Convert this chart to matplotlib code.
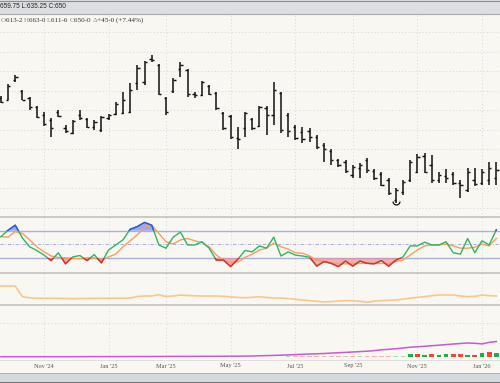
import matplotlib
matplotlib.use("Agg")
import matplotlib.pyplot as plt
import numpy as np
import pandas as pd
from matplotlib.lines import Line2D
from matplotlib.patches import Rectangle
from matplotlib.path import Path

# ---------------- data ----------------
dates = pd.date_range("2024-09-23", periods=70, freq="7D")

high = [675, 687, 696, 681, 674, 664, 658, 652, 660, 645,
        650, 660, 652, 650, 654, 656, 668, 679, 688, 706,
        710, 717, 707, 674, 693, 709, 702, 679, 690, 686,
        679, 658, 655, 643, 658, 652, 664, 664, 689, 679,
        657, 645, 643, 642, 635, 627, 620, 610, 609, 604,
        606, 611, 600, 597, 591, 580, 589, 609, 615, 616,
        614, 597, 600, 597, 589, 601, 601, 600, 607, 607]
low = [667, 670, 689, 670, 660, 652, 644, 633, 653, 637,
       636, 650, 642, 640, 638, 650, 655, 656, 657, 681,
       686, 709, 676, 655, 678, 694, 674, 673, 675, 676,
       660, 640, 631, 620, 633, 640, 643, 635, 645, 637,
       633, 630, 627, 628, 620, 607, 604, 602, 596, 591,
       591, 596, 589, 582, 573, 565, 573, 587, 596, 596,
       586, 586, 586, 584, 570, 576, 582, 584, 584, 584]
opn = [673, 671, 691, 680, 673, 663, 655, 650, 658, 642,
       637, 655, 651, 643, 640, 652, 656, 657, 658, 688,
       689, 712, 706, 673, 680, 702, 701, 677, 676, 685,
       678, 657, 654, 632, 642, 651, 644, 662, 655, 678,
       655, 643, 638, 639, 633, 624, 618, 609, 607, 594,
       601, 609, 598, 595, 589, 568, 576, 589, 597, 613,
       604, 589, 593, 595, 586, 578, 589, 586, 589, 591]
close = [668, 685, 694, 671, 663, 653, 646, 642, 654, 639,
         649, 652, 643, 648, 653, 655, 666, 670, 681, 703,
         709, 711, 677, 658, 691, 706, 677, 676, 689, 677,
         662, 642, 633, 631, 657, 642, 663, 655, 681, 640,
         639, 632, 631, 633, 622, 620, 609, 604, 598, 602,
         604, 599, 591, 584, 575, 578, 587, 607, 612, 597,
         589, 594, 591, 586, 584, 597, 585, 597, 601, 599]

stoch_k = [67, 81, 92, 64, 45, 37, 27, 15, 32, 8,
           23, 26, 15, 28, 10, 38, 49, 60, 83, 89,
           98, 92, 49, 42, 66, 77, 49, 49, 56, 42,
           16, 16, 2, 18, 37, 34, 47, 42, 66, 25,
           34, 27, 25, 22, 3, 13, 9, 2, 14, 3,
           14, 9, 8, 15, 3, 16, 23, 47, 47, 55,
           49, 49, 56, 32, 29, 63, 32, 58, 49, 82]
stoch_d = [67, 66, 78, 74, 60, 45, 34, 25, 22, 21,
           20, 19, 21, 21, 16, 23, 29, 45, 58, 71,
           87, 92, 74, 56, 51, 60, 63, 58, 54, 45,
           27, 16, 12, 12, 22, 29, 38, 42, 53, 45,
           40, 32, 31, 25, 16, 13, 10, 8, 8, 8,
           9, 9, 9, 9, 8, 13, 16, 27, 38, 47,
           49, 49, 51, 47, 42, 42, 44, 51, 47, 63]

orange_ind = [19, 19, 19, 8.3, 7.2, 6.8, 6.8, 6.7, 6.7, 6.5,
              6.3, 6.5, 6.6, 6.7, 6.7, 6.8, 6.8, 6.8, 7.0, 8.5,
              9.0, 9.0, 10.3, 8.5, 9.0, 10.0, 9.5, 9.2, 9.0, 9.0,
              9.0, 8.7, 8.2, 7.5, 7.3, 7.7, 8.3, 7.5, 7.0, 7.0,
              6.5, 5.7, 5.0, 4.3, 3.7, 3.0, 3.5, 4.0, 4.3, 4.3,
              3.8, 2.8, 3.8, 4.3, 4.8, 5.0, 5.8, 6.8, 7.7, 8.3,
              9.3, 10.0, 10.0, 10.0, 9.0, 8.3, 8.6, 10.0, 9.3, 9.0]

purple_ind = [0.3, 0.3, 0.3, 0.3, 0.3, 0.3, 0.3, 0.3, 0.3, 0.3,
              0.3, 0.35, 0.35, 0.4, 0.4, 0.4, 0.4, 0.45, 0.45, 0.5,
              0.5, 0.5, 0.55, 0.55, 0.6, 0.6, 0.6, 0.65, 0.65, 0.7,
              0.7, 0.75, 0.8, 0.8, 0.9, 1.0, 1.2, 1.4, 1.6, 1.8,
              2.1, 2.4, 2.7, 3.0, 3.2, 3.5, 3.9, 4.3, 4.6, 5.0,
              5.4, 5.8, 6.4, 7.2, 7.7, 8.2, 9.0, 9.8, 10.2, 10.7,
              11.3, 11.8, 12.4, 13.0, 13.5, 14.0, 13.7, 13.1, 14.6, 15.5]

volume = [0] * 40 + [0.6, 0.6, 0.6, 0.6, 0.7, 0.8, 1.0, 1.0, 1.0, 1.0,
                     1.1, 1.1, 1.3, 1.3, 1.3, 1.3, 1.3, 3.0, 3.0, 2.4,
                     3.0, 2.4, 2.7, 3.0, 3.0, 2.4, 2.4, 4.3, 5.3, 4.0]
vol_dir = ["g"] * 40 + ["g", "r", "r", "r", "r", "r", "r", "r", "g", "r",
                        "g", "r", "r", "r", "r", "g", "g", "g", "r", "g",
                        "r", "g", "g", "r", "r", "g", "r", "g", "r", "g"]

header_text = "659.75 L:635.25 C:650"
quote_parts = [("O", "light"), ("613-2 ", "dark"), ("H", "light"), ("663-0 ", "dark"),
               ("L", "light"), ("611-6 ", "dark"), ("C", "light"), ("650-0 ", "dark"),
               ("\u0394", "light"), ("+45-0 (+7.44%)", "dark")]

# ---------------- style ----------------
BG = "#f9f7f1"
W, H = 500, 383
GRID = "#d6d6d6"

fig = plt.figure(figsize=(5.0, 3.83), dpi=100, facecolor=BG)


def fy(y):
    return 1 - y / H


x = np.arange(len(dates))
XMIN, XMAX = -0.125, 69.51


def add_ax(top, bottom, ylim):
    ax = fig.add_axes([0, fy(bottom), 1, (bottom - top) / H])
    ax.set_facecolor(BG)
    for s in ax.spines.values():
        s.set_visible(False)
    ax.set_xticks([])
    ax.set_yticks([])
    ax.set_xlim(XMIN, XMAX)
    ax.set_ylim(*ylim)
    return ax


# month ticks
tick_idx, tick_lab = [], []
for i in range(1, len(dates)):
    d, p = dates[i], dates[i - 1]
    if d.month != p.month and d.month % 2 == 1:
        tick_idx.append(i)
        tick_lab.append(f"{d:%b} '{d:%y}")

ax_p = add_ax(13.5, 216.7, (551.1, 759.0))
ax_s = add_ax(216.7, 272.7, (-11.3, 110.4))
ax_o = add_ax(272.7, 305.0, (0, 32.3))
ax_v = add_ax(305.0, 359.0, (-2, 52))

for ax in (ax_p, ax_s, ax_o, ax_v):
    for ti in tick_idx:
        ax.axvline(ti, color=GRID, lw=0.7, ls=(0, (1, 2.5)), zorder=0)

# price panel
for g in range(560, 760, 20):
    ax_p.axhline(g, color=GRID, lw=0.7, ls=(0, (1, 2.5)), zorder=0)
ax_p.vlines(x, low, high, color="#111111", lw=1.1, zorder=3)
ax_p.hlines(opn, x - 0.32, x, color="#111111", lw=1.05, zorder=3)
ax_p.hlines(close, x, x + 0.32, color="#111111", lw=1.05, zorder=3)
low_idx = int(np.argmin(low))
ax_p.plot([x[low_idx]], [low[low_idx] + 2.5], marker=Path.arc(180, 360),
          markersize=5, mew=0.9, mec="#111111", mfc="none", zorder=3)

# stochastic panel
K = np.array(stoch_k, float)
D = np.array(stoch_d, float)
ax_s.axhline(80, color="#a9aee6", lw=1.0, zorder=1)
ax_s.axhline(20, color="#a9aee6", lw=1.0, zorder=1)
ax_s.axhline(50, color="#9a9fe0", lw=0.6, ls=(0, (4, 2, 1, 2)), zorder=1)
ax_s.fill_between(x, K, 80, where=K >= 80, interpolate=True, color="#7f90f0",
                  alpha=0.75, lw=0, zorder=2)
ax_s.fill_between(x, K, 20, where=K <= 20, interpolate=True, color="#f57d7d",
                  alpha=0.6, lw=0, zorder=2)
ax_s.plot(x, D, color="#f4a05e", lw=1.0, zorder=3)
ax_s.plot(x, K, color="#2fb562", lw=1.0, zorder=4)
hi_line, = ax_s.plot(x, K, color="#3050f0", lw=1.0, zorder=5)
hi_line.set_clip_path(Rectangle((XMIN, 80), XMAX - XMIN, 200, transform=ax_s.transData))
lo_line, = ax_s.plot(x, K, color="#f02a2a", lw=1.0, zorder=5)
lo_line.set_clip_path(Rectangle((XMIN, -200), XMAX - XMIN, 220, transform=ax_s.transData))

# orange indicator panel
ax_o.plot(x, orange_ind, color="#fcc68a", lw=1.2, zorder=3)

# bottom panel
ax_v.axhline(34, color=GRID, lw=0.7, ls=(0, (1, 2.5)), zorder=0)
pal = {"g": "#1fae4f", "r": "#f04a36"}
pale = {"g": "#a8dcb8", "r": "#f6b3a9"}
vcols = [pal[c] if v >= 2 else pale[c] for c, v in zip(vol_dir, volume)]
ax_v.bar(x, volume, width=0.66, color=vcols, lw=0, zorder=2)
ax_v.plot(x, purple_ind, color="#c858d8", lw=1.1, zorder=3)

# separators
for yy, col, lw in [(216.7, "#bdbdbd", 1.1), (272.7, "#bdbdbd", 1.1), (305.0, "#bdbdbd", 1.1),
                    (359.5, "#dadada", 0.6)]:
    fig.add_artist(Line2D([0, 1], [fy(yy), fy(yy)], transform=fig.transFigure, color=col, lw=lw))

# header band
fig.add_artist(Rectangle((0, fy(13.5)), 1, 13.5 / H, transform=fig.transFigure,
                         facecolor="#dcdee2", edgecolor="none", zorder=0))
fig.add_artist(Line2D([0, 1], [fy(0.5), fy(0.5)], transform=fig.transFigure, color="#8c8c8c", lw=0.8))
fig.add_artist(Line2D([0, 1], [fy(13.5), fy(13.5)], transform=fig.transFigure, color="#a8a8a8", lw=0.8))
fig.text(0.5 / W, fy(6.8), header_text, fontsize=4.7, family="Liberation Sans",
         color="#222222", va="center", ha="left")

# quote line
renderer = fig.canvas.get_renderer()
xpos = 0.5
for s, kind in quote_parts:
    t = fig.text(xpos / W, fy(20.5), s, fontsize=5.1, family="Liberation Serif",
                 color="#888888" if kind == "light" else "#333333", va="center", ha="left")
    xpos += t.get_window_extent(renderer).width

# bottom gray band
fig.add_artist(Rectangle((0, 0), 1, 10 / H, transform=fig.transFigure,
                         facecolor="#d5d8dc", edgecolor="none"))
fig.add_artist(Line2D([0, 1], [fy(373), fy(373)], transform=fig.transFigure, color="#b0b0b0", lw=0.7))
fig.add_artist(Line2D([0, 1], [fy(382.3), fy(382.3)], transform=fig.transFigure, color="#7a7a7a", lw=0.8))

# month labels
for ti, lab in zip(tick_idx, tick_lab):
    xf = (ti - XMIN) / (XMAX - XMIN)
    fig.text(xf, fy(366), lab, fontsize=4.5, family="Liberation Serif", color="#555555",
             ha="center", va="center")

fig.savefig("out.png", dpi=100, facecolor=BG)
